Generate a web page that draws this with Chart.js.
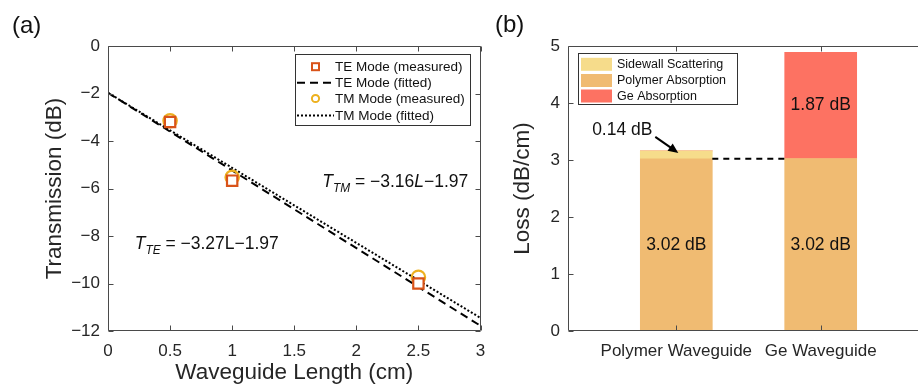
<!DOCTYPE html>
<html><head><meta charset="utf-8">
<script src="https://cdn.jsdelivr.net/npm/chart.js@4.4.0/dist/chart.umd.min.js"></script>
<style>
html,body{margin:0;padding:0;background:#fff;overflow:hidden;width:918px;height:387px;position:relative;}
canvas{position:absolute;top:0;}
.pl{position:absolute;font-family:'Liberation Sans',Arial,Helvetica,sans-serif;font-size:24px;line-height:24px;color:#111;}
</style></head><body>
<canvas id="ca" width="490" height="387" style="left:0"></canvas>
<canvas id="cb" width="460" height="387" style="left:490px"></canvas>
<div class="pl" style="left:12px;top:13px">(a)</div>
<div class="pl" style="left:495px;top:12px">(b)</div>
<script>
// ---------- data: panel (a) ----------
const teLength = [0.5, 1, 2.5];
const teMeasured = [-3.2, -5.67, -10.0];
const tmLength = [0.5, 1, 2.5];
const tmMeasured = [-3.15, -5.53, -9.74];
const fitLength = [0, 3];
const teFitted = [-1.97, -11.78];
const tmFitted = [-1.97, -11.45];
const lengthTicks = [0, 0.5, 1, 1.5, 2, 2.5, 3];
const transmissionTicks = [0, -2, -4, -6, -8, -10, -12];
// ---------- data: panel (b) ----------
const waveguideNames = ['Polymer Waveguide', 'Ge Waveguide'];
const waveguidePos = [1, 2];
const polymerAbsorption = [3.02, 3.02];
const sidewallScattering = [0.14, 0];
const geAbsorption = [0, 1.87];
const lossTicks = [0, 1, 2, 3, 4, 5];

const FONT = "'Liberation Sans', Arial, Helvetica, sans-serif";
const AX = '#262626';
const FRAME = '#4a4a4a';
const C_TE = '#D95319', C_TM = '#EDB120';
const C_SIDE = '#F6DC8B', C_POLY = '#F0BB72', C_GE = '#FD7262';
const TITLE_SIZE = 22.5;
const pts = (xs, ys) => xs.map((x, i) => ({x: x, y: ys[i]}));
const minus = v => (v < 0 ? '\u2212' + Math.abs(v) : String(v));
const noPadX = s => { s.paddingLeft = 0; s.paddingRight = 0; };
const noPadY = s => { s.paddingTop = 0; s.paddingBottom = 0; };

function drawFrame(chart, tl) {
  const {ctx, chartArea: a, scales: {x, y}} = chart;
  ctx.save();
  ctx.strokeStyle = FRAME; ctx.lineWidth = 1;
  const L = Math.round(a.left) + 0.5, R = Math.round(a.right) - 0.5;
  const T = Math.round(a.top) + 0.5, B = Math.round(a.bottom) - 0.5;
  ctx.beginPath();
  ctx.moveTo(L, T); ctx.lineTo(R, T); ctx.lineTo(R, B); ctx.lineTo(L, B); ctx.closePath();
  x.ticks.forEach(t => {
    const px = Math.round(x.getPixelForValue(t.value)) + 0.5;
    ctx.moveTo(px, B); ctx.lineTo(px, B - tl);
    ctx.moveTo(px, T); ctx.lineTo(px, T + tl);
  });
  y.ticks.forEach(t => {
    const py = Math.round(y.getPixelForValue(t.value)) + 0.5;
    ctx.moveTo(L, py); ctx.lineTo(L + tl, py);
    ctx.moveTo(R, py); ctx.lineTo(R - tl, py);
  });
  ctx.stroke();
  ctx.restore();
}

function drawRich(ctx, x, y, parts, size) {
  let cx = x;
  parts.forEach(p => {
    const s = p.sub ? size * 0.68 : size;
    ctx.font = (p.it ? 'italic ' : '') + s + 'px ' + FONT;
    ctx.fillText(p.t, cx, y + (p.sub ? size * 0.3 : 0));
    cx += ctx.measureText(p.t).width;
  });
}

// ---------- panel (a) ----------
const pluginA = {
  id: 'decorA',
  afterDraw(chart) {
    const {ctx, scales: {x, y}} = chart;
    drawFrame(chart, 5);
    ctx.save();
    ctx.fillStyle = '#111'; ctx.textBaseline = 'alphabetic'; ctx.textAlign = 'left';
    drawRich(ctx, x.getPixelForValue(1.725), y.getPixelForValue(-5.94), [
      {t: 'T', it: true}, {t: 'TM', it: true, sub: true}, {t: ' = \u22123.16'}, {t: 'L', it: true}, {t: '\u22121.97'}], 17.5);
    drawRich(ctx, x.getPixelForValue(0.215), y.getPixelForValue(-8.55), [
      {t: 'T', it: true}, {t: 'TE', it: true, sub: true}, {t: ' = \u22123.27L\u22121.97'}], 17.5);
    // legend
    const bx = 295, by = 54, bw = 175, bh = 71;
    ctx.fillStyle = '#fff'; ctx.fillRect(bx, by, bw, bh);
    ctx.strokeStyle = '#333'; ctx.lineWidth = 1;
    ctx.strokeRect(bx + 0.5, by + 0.5, bw, bh);
    const rows = [66.7, 82.7, 98.5, 115.5];
    const labels = chart.data.datasets.map(d => d.label);
    const order = [0, 2, 1, 3];
    ctx.font = '13.5px ' + FONT; ctx.textBaseline = 'middle'; ctx.fillStyle = '#111';
    order.forEach((di, r) => {
      const ry = rows[r];
      const ds = chart.data.datasets[di];
      ctx.save();
      if (di === 0) {
        ctx.strokeStyle = C_TE; ctx.lineWidth = 2; ctx.fillStyle = '#fff';
        ctx.fillRect(312, ry - 3.5, 7, 7); ctx.strokeRect(312, ry - 3.5, 7, 7);
      } else if (di === 1) {
        ctx.strokeStyle = C_TM; ctx.lineWidth = 2;
        ctx.beginPath(); ctx.arc(315.5, ry, 3.6, 0, Math.PI * 2); ctx.stroke();
      } else {
        ctx.strokeStyle = '#000'; ctx.lineWidth = 2; ctx.setLineDash(ds.borderDash);
        ctx.beginPath(); ctx.moveTo(297, ry); ctx.lineTo(334, ry); ctx.stroke();
      }
      ctx.restore();
      ctx.fillText(labels[di], 335, ry + 0.5);
    });
    ctx.restore();
  }
};

new Chart(document.getElementById('ca'), {
  type: 'scatter',
  data: {datasets: [
    {label: 'TE Mode (measured)', data: pts(teLength, teMeasured), pointStyle: 'rect', pointRadius: 7.3, pointBorderWidth: 2.2,
     pointBorderColor: C_TE, pointBackgroundColor: '#fff', showLine: false},
    {label: 'TM Mode (measured)', data: pts(tmLength, tmMeasured), pointStyle: 'circle', pointRadius: 6.7, pointBorderWidth: 2.2,
     pointBorderColor: C_TM, pointBackgroundColor: 'rgba(0,0,0,0)', showLine: false},
    {label: 'TE Mode (fitted)', data: pts(fitLength, teFitted), showLine: true, borderColor: '#000', borderWidth: 2,
     borderDash: [8, 5], pointRadius: 0, fill: false},
    {label: 'TM Mode (fitted)', data: pts(fitLength, tmFitted), showLine: true, borderColor: '#000', borderWidth: 2,
     borderDash: [2, 2], pointRadius: 0, fill: false}
  ]},
  options: {
    responsive: false, devicePixelRatio: 1, animation: false,
    layout: {padding: {left: 0, top: 46, right: 6, bottom: 0}},
    plugins: {legend: {display: false}, tooltip: {enabled: false}},
    scales: {
      x: {type: 'linear', min: 0, max: 3,
        afterBuildTicks: s => { s.ticks = lengthTicks.map(v => ({value: v})); },
        afterFit: s => { s.height = 56; noPadX(s); },
        grid: {display: false, drawTicks: false}, border: {display: false},
        ticks: {padding: 10, color: AX, font: {family: FONT, size: 17}, maxRotation: 0, autoSkip: false, callback: v => String(v)},
        title: {display: true, text: 'Waveguide Length (cm)', color: AX, font: {family: FONT, size: TITLE_SIZE}, padding: {top: 0, bottom: 0.5}}},
      y: {type: 'linear', min: -12, max: 0,
        afterBuildTicks: s => { s.ticks = transmissionTicks.map(v => ({value: v})); },
        afterFit: s => { s.width = 108; noPadY(s); },
        grid: {display: false, drawTicks: false}, border: {display: false},
        ticks: {padding: 8, color: AX, font: {family: FONT, size: 17}, autoSkip: false, callback: v => minus(v)},
        title: {display: true, text: 'Transmission (dB)', color: AX, font: {family: FONT, size: TITLE_SIZE}, padding: {top: 41.5, bottom: 0}}}
    }
  },
  plugins: [pluginA]
});

// ---------- panel (b) ----------
const pluginB = {
  id: 'decorB',
  afterDatasetsDraw(chart) {
    const {ctx} = chart;
    const mPoly = chart.getDatasetMeta(0), mSide = chart.getDatasetMeta(1), mGe = chart.getDatasetMeta(2);
    ctx.save();
    const b0 = mPoly.data[0], b1 = mPoly.data[1];
    ctx.strokeStyle = '#000'; ctx.lineWidth = 2; ctx.setLineDash([6, 5]);
    ctx.beginPath();
    ctx.moveTo(b0.x + b0.width / 2, b0.y); ctx.lineTo(b1.x - b1.width / 2, b1.y); ctx.stroke();
    ctx.setLineDash([]);
    ctx.fillStyle = '#111'; ctx.font = '17.5px ' + FONT; ctx.textAlign = 'center'; ctx.textBaseline = 'middle';
    [[mPoly, polymerAbsorption, 0], [mPoly, polymerAbsorption, 1], [mGe, geAbsorption, 1]].forEach(([m, arr, i]) => {
      const el = m.data[i];
      ctx.fillText(arr[i].toFixed(2) + ' dB', el.x, (el.y + el.base) / 2);
    });
    const s = mSide.data[0];
    ctx.fillText(sidewallScattering[0].toFixed(2) + ' dB', s.x - 54, s.y - 21);
    const tx = s.x - 21, ty = s.y - 14, hx = s.x + 2, hy = s.y + 2;
    const ang = Math.atan2(hy - ty, hx - tx);
    ctx.strokeStyle = '#000'; ctx.lineWidth = 2;
    ctx.beginPath(); ctx.moveTo(tx, ty);
    ctx.lineTo(hx - 7 * Math.cos(ang), hy - 7 * Math.sin(ang)); ctx.stroke();
    ctx.beginPath(); ctx.fillStyle = '#000';
    ctx.moveTo(hx, hy);
    ctx.lineTo(hx - 10 * Math.cos(ang) + 4.5 * Math.sin(ang), hy - 10 * Math.sin(ang) - 4.5 * Math.cos(ang));
    ctx.lineTo(hx - 10 * Math.cos(ang) - 4.5 * Math.sin(ang), hy - 10 * Math.sin(ang) + 4.5 * Math.cos(ang));
    ctx.closePath(); ctx.fill();
    ctx.restore();
  },
  afterDraw(chart) {
    const {ctx} = chart;
    drawFrame(chart, 5);
    ctx.save();
    const bx = 88, by = 53, bw = 159, bh = 51;
    ctx.fillStyle = '#fff'; ctx.fillRect(bx, by, bw, bh);
    ctx.strokeStyle = '#333'; ctx.lineWidth = 1; ctx.strokeRect(bx + 0.5, by + 0.5, bw, bh);
    const items = [[1, 'Sidewall Scattering'], [0, 'Polymer Absorption'], [2, 'Ge Absorption']];
    const rows = [64.3, 80.5, 96];
    ctx.font = '12.5px ' + FONT; ctx.textBaseline = 'middle'; ctx.textAlign = 'left';
    items.forEach(([di], r) => {
      const ds = chart.data.datasets[di];
      ctx.fillStyle = ds.backgroundColor;
      ctx.fillRect(91, rows[r] - 6.5, 31, 13);
      ctx.fillStyle = '#111';
      ctx.fillText(ds.label, 127, rows[r] + 0.5);
    });
    ctx.restore();
  }
};

new Chart(document.getElementById('cb'), {
  type: 'bar',
  data: {datasets: [
    {label: 'Polymer Absorption', data: pts(waveguidePos, polymerAbsorption), backgroundColor: C_POLY},
    {label: 'Sidewall Scattering', data: pts(waveguidePos, sidewallScattering), backgroundColor: C_SIDE},
    {label: 'Ge Absorption', data: pts(waveguidePos, geAbsorption), backgroundColor: C_GE}
  ]},
  options: {
    responsive: false, devicePixelRatio: 1, animation: false,
    layout: {padding: {left: 0, top: 46, right: 21, bottom: 0}},
    plugins: {legend: {display: false}, tooltip: {enabled: false}},
    datasets: {bar: {barThickness: 72, borderWidth: 0, grouped: false}},
    scales: {
      x: {type: 'linear', min: 0.25, max: 2.75, stacked: true, offset: false,
        afterBuildTicks: s => { s.ticks = waveguidePos.map(v => ({value: v})); },
        afterFit: s => { s.height = 56; noPadX(s); },
        grid: {display: false, drawTicks: false}, border: {display: false},
        ticks: {padding: 10, color: AX, font: {family: FONT, size: 17}, maxRotation: 0, autoSkip: false,
          callback: v => waveguideNames[waveguidePos.indexOf(v)]}},
      y: {type: 'linear', min: 0, max: 5, stacked: true,
        afterBuildTicks: s => { s.ticks = lossTicks.map(v => ({value: v})); },
        afterFit: s => { s.width = 78; noPadY(s); },
        grid: {display: false, drawTicks: false}, border: {display: false},
        ticks: {padding: 8, color: AX, font: {family: FONT, size: 17}, autoSkip: false, callback: v => String(v)},
        title: {display: true, text: 'Loss (dB/cm)', color: AX, font: {family: FONT, size: TITLE_SIZE}, padding: {top: 19.5, bottom: 0}}}
    }
  },
  plugins: [pluginB]
});
</script>
</body></html>
